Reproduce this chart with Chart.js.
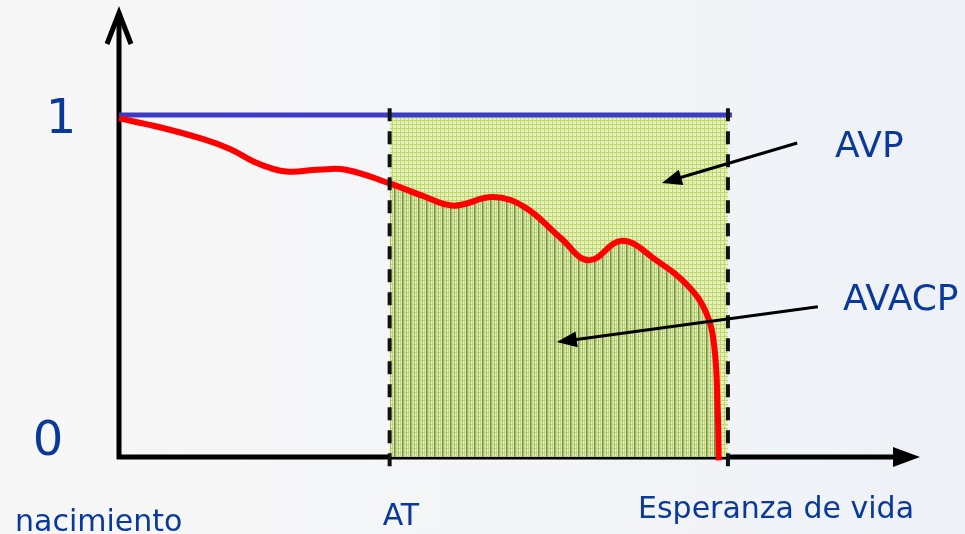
<!DOCTYPE html>
<html>
<head>
<meta charset="utf-8">
<title>AVP / AVACP</title>
<script src="https://cdn.jsdelivr.net/npm/chart.js@4.4.1/dist/chart.umd.min.js"></script>
<style>
  html, body { margin: 0; padding: 0; background: #f6f7f8; }
  #wrap { position: relative; width: 965px; height: 534px; }
</style>
</head>
<body>
<div id="wrap"><canvas id="grafico"></canvas></div>
<script>
// Edad (eje x, 0..100) y calidad de vida (eje y, 0..1)
const edad     = [0, 5, 10.5, 14, 17.5, 21, 25, 28.5, 34, 38, 42, 47, 51, 55.5, 59, 63.2, 67.5, 71.5, 73.8, 74.8, 75.2, 75.35];
const calidad  = [0.99, 0.965, 0.93, 0.9, 0.858, 0.835, 0.84, 0.84, 0.80, 0.765, 0.735, 0.76, 0.73, 0.64, 0.575, 0.632, 0.575, 0.50, 0.42, 0.32, 0.15, -0.01];

// Línea de salud perfecta
const perfectaX = [0, 77];
const perfectaY = [1, 1];

// Edad de referencia y esperanza de vida
const edadAT = 34;
const esperanza = 76.5;

// Marcas del eje y
const marcasY = ["0", "1"];

// Textos
const etiquetas = { nac: "nacimiento", at: "AT", ev: "Esperanza de vida", avp: "AVP", avacp: "AVACP" };

// Flechas de las anotaciones (unidades de datos: desde -> hasta)
const flechaAVP   = [[85.2, 0.918], [68.2, 0.801]];
const flechaAVACP = [[87.8, 0.439], [55.0, 0.336]];

const AZUL_TEXTO = "#0a3a99";

// patrones de relleno (trama verde)
function trama(oscura) {
  const c = document.createElement("canvas");
  c.width = 8; c.height = 4;
  const g = c.getContext("2d");
  g.fillStyle = "#e6efc4";
  g.fillRect(0, 0, 8, 4);
  g.fillStyle = "#bfd864";
  g.fillRect(0, 0, 8, 1);
  g.fillRect(0, 0, 1, 4);
  g.fillRect(4, 0, 1, 4);
  if (oscura) {
    g.fillStyle = "#73885a";
    g.fillRect(2, 0, 1, 4);
    g.fillStyle = "#a4bd7e";
    g.fillRect(3, 0, 1, 4);
    g.fillRect(6, 0, 1, 4);
  }
  return g.createPattern(c, "repeat");
}

const puntosCurva = edad.map((x, i) => ({ x: x, y: calidad[i] }));
const puntosAVACP = puntosCurva.filter(p => p.x >= edadAT);
const puntosAVP = [{ x: edadAT, y: 1 }, { x: esperanza, y: 1 }];
const puntosPerfecta = perfectaX.map((x, i) => ({ x: x, y: perfectaY[i] }));

function flecha(ctx, x1, y1, x2, y2, largo, ancho) {
  const ang = Math.atan2(y2 - y1, x2 - x1);
  ctx.beginPath();
  ctx.moveTo(x1, y1);
  ctx.lineTo(x2 - Math.cos(ang) * largo * 0.8, y2 - Math.sin(ang) * largo * 0.8);
  ctx.stroke();
  ctx.beginPath();
  ctx.moveTo(x2, y2);
  ctx.lineTo(x2 - Math.cos(ang) * largo + Math.sin(ang) * ancho, y2 - Math.sin(ang) * largo - Math.cos(ang) * ancho);
  ctx.lineTo(x2 - Math.cos(ang) * largo - Math.sin(ang) * ancho, y2 - Math.sin(ang) * largo + Math.cos(ang) * ancho);
  ctx.closePath();
  ctx.fill();
}

// fondo + ejes (antes de los datasets), guiones, flechas y textos (después)
const decorado = {
  id: "decorado",
  beforeDraw(chart) {
    const ctx = chart.ctx;
    const grad = ctx.createLinearGradient(0, 0, chart.width, 0);
    grad.addColorStop(0, "#f7f7f7");
    grad.addColorStop(0.55, "#f4f5f7");
    grad.addColorStop(1, "#edf1f7");
    ctx.save();
    ctx.fillStyle = grad;
    ctx.fillRect(0, 0, chart.width, chart.height);
    ctx.restore();
  },
  beforeDatasetsDraw(chart) {
    const ctx = chart.ctx;
    const xs = chart.scales.x, ys = chart.scales.y;
    const x0 = xs.getPixelForValue(0);
    const y0 = ys.getPixelForValue(0);
    const top = chart.chartArea.top;
    const right = chart.chartArea.right;
    ctx.save();
    ctx.strokeStyle = "#000";
    ctx.fillStyle = "#000";
    ctx.lineWidth = 5;
    ctx.lineCap = "butt";
    // eje y
    ctx.beginPath();
    ctx.moveTo(x0, y0 + 2);
    ctx.lineTo(x0, top + 3);
    ctx.stroke();
    ctx.lineJoin = "miter";
    ctx.beginPath();
    ctx.moveTo(x0 - 12, top + 34);
    ctx.lineTo(x0, top + 3);
    ctx.lineTo(x0 + 12, top + 34);
    ctx.stroke();
    // eje x
    ctx.beginPath();
    ctx.moveTo(x0 - 2, y0);
    ctx.lineTo(right - 20, y0);
    ctx.stroke();
    ctx.beginPath();
    ctx.moveTo(right + 5, y0);
    ctx.lineTo(right - 22, y0 - 10);
    ctx.lineTo(right - 22, y0 + 10);
    ctx.closePath();
    ctx.fill();
    ctx.restore();
  },
  afterDatasetsDraw(chart) {
    const ctx = chart.ctx;
    const xs = chart.scales.x, ys = chart.scales.y;
    ctx.save();
    // líneas discontinuas en AT y esperanza de vida
    ctx.strokeStyle = "#111";
    ctx.lineWidth = 4;
    ctx.setLineDash([13, 10]);
    [edadAT, esperanza].forEach(v => {
      const px = xs.getPixelForValue(v);
      ctx.beginPath();
      ctx.moveTo(px, ys.getPixelForValue(1.02));
      ctx.lineTo(px, ys.getPixelForValue(-0.04));
      ctx.stroke();
    });
    ctx.setLineDash([]);

    // flechas de anotación
    ctx.strokeStyle = "#000";
    ctx.fillStyle = "#000";
    ctx.lineWidth = 3;
    [flechaAVP, flechaAVACP].forEach(f => {
      flecha(ctx,
        xs.getPixelForValue(f[0][0]), ys.getPixelForValue(f[0][1]),
        xs.getPixelForValue(f[1][0]), ys.getPixelForValue(f[1][1]), 20, 8);
    });

    // textos
    ctx.fillStyle = AZUL_TEXTO;
    ctx.textBaseline = "alphabetic";
    ctx.font = "48px 'DejaVu Sans'";
    ctx.textAlign = "center";
    ctx.fillText(marcasY[1], 61, ys.getPixelForValue(1) + 18);
    ctx.fillText(marcasY[0], 48, ys.getPixelForValue(0) - 2);

    ctx.textAlign = "left";
    ctx.font = "30px 'DejaVu Sans'";
    ctx.fillText(etiquetas.nac, 15, 531);
    ctx.fillText(etiquetas.at, xs.getPixelForValue(edadAT) - 7, 525);
    ctx.fillText(etiquetas.ev, 638, 518);
    ctx.font = "36px 'DejaVu Sans'";
    ctx.fillText(etiquetas.avp, 835, 157);
    ctx.fillText(etiquetas.avacp, 843, 310);
    ctx.restore();
  }
};

const ctx = document.getElementById("grafico").getContext("2d");
const grafico = new Chart(ctx, {
  type: "line",
  data: {
    datasets: [
      {
        label: "Curva",
        data: puntosCurva,
        borderColor: "#ff0000",
        borderWidth: 6,
        tension: 0.4,
        pointRadius: 0,
        fill: false,
        clip: false,
        order: 1
      },
      {
        label: "Perfecta",
        data: puntosPerfecta,
        borderColor: "#3b3bc6",
        borderWidth: 5,
        pointRadius: 0,
        fill: false,
        clip: false,
        order: 2
      },
      {
        label: "AVACP",
        data: puntosAVACP,
        borderWidth: 0,
        borderColor: "rgba(0,0,0,0)",
        tension: 0.4,
        pointRadius: 0,
        fill: "origin",
        backgroundColor: trama(true),
        clip: false,
        order: 3
      },
      {
        label: "AVP",
        data: puntosAVP,
        borderWidth: 0,
        borderColor: "rgba(0,0,0,0)",
        pointRadius: 0,
        fill: "origin",
        backgroundColor: trama(false),
        order: 4
      }
    ]
  },
  options: {
    responsive: true,
    maintainAspectRatio: false,
    animation: false,
    layout: { padding: { left: 119, right: 50, top: 10, bottom: 77 } },
    scales: {
      x: { type: "linear", min: 0, max: 100, display: false },
      y: { type: "linear", min: 0, max: 1.307, display: false }
    },
    plugins: {
      legend: { display: false },
      tooltip: { enabled: false }
    }
  },
  plugins: [decorado]
});
</script>
</body>
</html>
